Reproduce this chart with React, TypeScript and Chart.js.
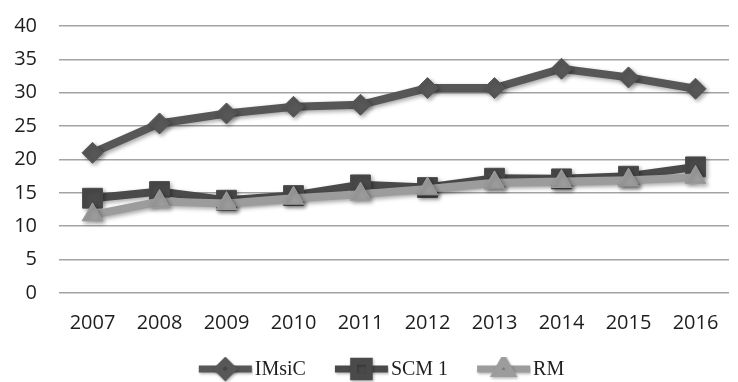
import React, { useEffect, useRef } from 'react';
import { Chart, registerables } from 'chart.js';
import { drawPoint } from 'chart.js/helpers';

Chart.register(...registerables);

// Years on the category axis
const years = ['2007', '2008', '2009', '2010', '2011', '2012', '2013', '2014', '2015', '2016'];

// Series values
const imsicValues = [21.0, 25.4, 26.9, 27.9, 28.2, 30.7, 30.7, 33.6, 32.3, 30.6];
const scm1Values = [14.2, 15.2, 13.9, 14.6, 16.2, 15.8, 17.2, 17.1, 17.5, 18.9];
const rmValues = [11.7, 13.7, 13.4, 14.2, 14.8, 15.6, 16.5, 16.7, 16.9, 17.3];

// Value axis
const yMin = 0;
const yMax = 40;
const yStep = 5;

const seriesNames = ['IMsiC', 'SCM 1', 'RM'];

const tickFont = { family: '"Open Sans", "DejaVu Sans", sans-serif', size: 20 };
const legendFont = { family: '"Liberation Serif", "DejaVu Serif", serif', size: 20 };
const textColor = '#1e1e1e';

const styles = [
  { color: '#575757', point: 'rectRot', radius: 10.5, legendRadius: 7.5 },
  { color: '#4a4a4a', point: 'rect', radius: 14, legendRadius: 11 },
  { color: '#9c9c9c', point: 'triangle', radius: 12, legendRadius: 9 },
];

// Legend swatch: a thick line segment with the series marker in its middle.
function makeSwatch(color: string, point: string, radius: number, width: number) {
  const c = document.createElement('canvas');
  c.width = width;
  c.height = 26;
  const ctx = c.getContext('2d')!;
  ctx.shadowColor = 'rgba(0,0,0,0.3)';
  ctx.shadowBlur = 3;
  ctx.shadowOffsetX = 1;
  ctx.shadowOffsetY = 1.5;
  const lineLen = 53;
  const x0 = width - lineLen - 1;
  ctx.strokeStyle = color;
  ctx.lineWidth = 7;
  ctx.beginPath();
  ctx.moveTo(x0, 12);
  ctx.lineTo(x0 + lineLen, 12);
  ctx.stroke();
  ctx.fillStyle = color;
  ctx.strokeStyle = color;
  drawPoint(ctx, { pointStyle: point as any, radius, borderWidth: 1, rotation: 0 } as any, x0 + lineLen / 2, 12);
  return c;
}

// Soft drop shadow under the series lines and markers
const shadowPlugin = {
  id: 'seriesShadow',
  beforeDatasetsDraw(chart: any) {
    const ctx = chart.ctx;
    ctx.save();
    ctx.shadowColor = 'rgba(0,0,0,0.35)';
    ctx.shadowBlur = 4;
    ctx.shadowOffsetX = 2;
    ctx.shadowOffsetY = 2;
  },
  afterDatasetsDraw(chart: any) {
    chart.ctx.restore();
  },
};

// Nudge the legend row sideways
const legendShift = {
  id: 'legendShift',
  afterLayout(chart: any) {
    const lg = chart.legend;
    if (lg) {
      lg.left += 8;
      lg.right += 8;
    }
  },
};

export default function App() {
  const ref = useRef<HTMLCanvasElement>(null);

  useEffect(() => {
    const boxW = 50;
    const swatches = styles.map((s) => makeSwatch(s.color, s.point, s.legendRadius, boxW + 16));
    const valueSets = [imsicValues, scm1Values, rmValues];
    const drawOrder = [1, 2, 0];

    const chart = new Chart(ref.current!, {
      type: 'line',
      data: {
        labels: years,
        datasets: valueSets.map((vals, i) => ({
          label: seriesNames[i],
          data: vals,
          order: drawOrder[i],
          borderColor: styles[i].color,
          backgroundColor: styles[i].color,
          borderWidth: 8,
          tension: 0,
          fill: false,
          pointStyle: styles[i].point as any,
          pointRadius: styles[i].radius,
          pointHoverRadius: styles[i].radius,
          pointBackgroundColor: styles[i].color,
          pointBorderColor: styles[i].color,
          pointBorderWidth: 1,
        })),
      },
      options: {
        responsive: false,
        animation: false,
        devicePixelRatio: 1,
        events: [],
        layout: { padding: { top: 26, right: 1, left: 0, bottom: 0 } },
        scales: {
          x: {
            offset: true,
            grid: { display: false, drawTicks: false, offset: true },
            border: { display: false },
            ticks: { font: tickFont, color: textColor, padding: 18, maxRotation: 0, autoSkip: false },
            afterFit: (s: any) => {
              s.height = 42;
              s.paddingLeft = 0;
              s.paddingRight = 0;
            },
          },
          y: {
            min: yMin,
            max: yMax,
            ticks: { stepSize: yStep, font: tickFont, color: textColor, padding: 22 },
            grid: { color: '#a3a3a3', lineWidth: 1.6, drawTicks: false },
            border: { display: false },
            afterFit: (s: any) => {
              s.width = 59;
              s.paddingTop = 0;
              s.paddingBottom = 0;
            },
          },
        },
        plugins: {
          tooltip: { enabled: false },
          legend: {
            position: 'bottom',
            maxHeight: 47,
            labels: {
              usePointStyle: true,
              pointStyleWidth: boxW,
              boxHeight: 20,
              padding: 25,
              font: legendFont,
              color: textColor,
              generateLabels: (ch: any) =>
                ch.data.datasets.map((ds: any, i: number) => ({
                  text: ds.label,
                  pointStyle: swatches[i],
                  fillStyle: styles[i].color,
                  strokeStyle: styles[i].color,
                  lineWidth: 0,
                  hidden: false,
                  datasetIndex: i,
                  fontColor: textColor,
                })),
              sort: (a: any, b: any) => a.datasetIndex - b.datasetIndex,
            },
          },
        },
      },
      plugins: [shadowPlugin, legendShift],
    });
    return () => chart.destroy();
  }, []);

  return (
    <div style={{ position: 'fixed', left: 0, top: 0, width: 738, height: 382, overflow: 'hidden', background: '#ffffff' }}>
      <canvas ref={ref} width={744} height={382} style={{ display: 'block' }} />
    </div>
  );
}
